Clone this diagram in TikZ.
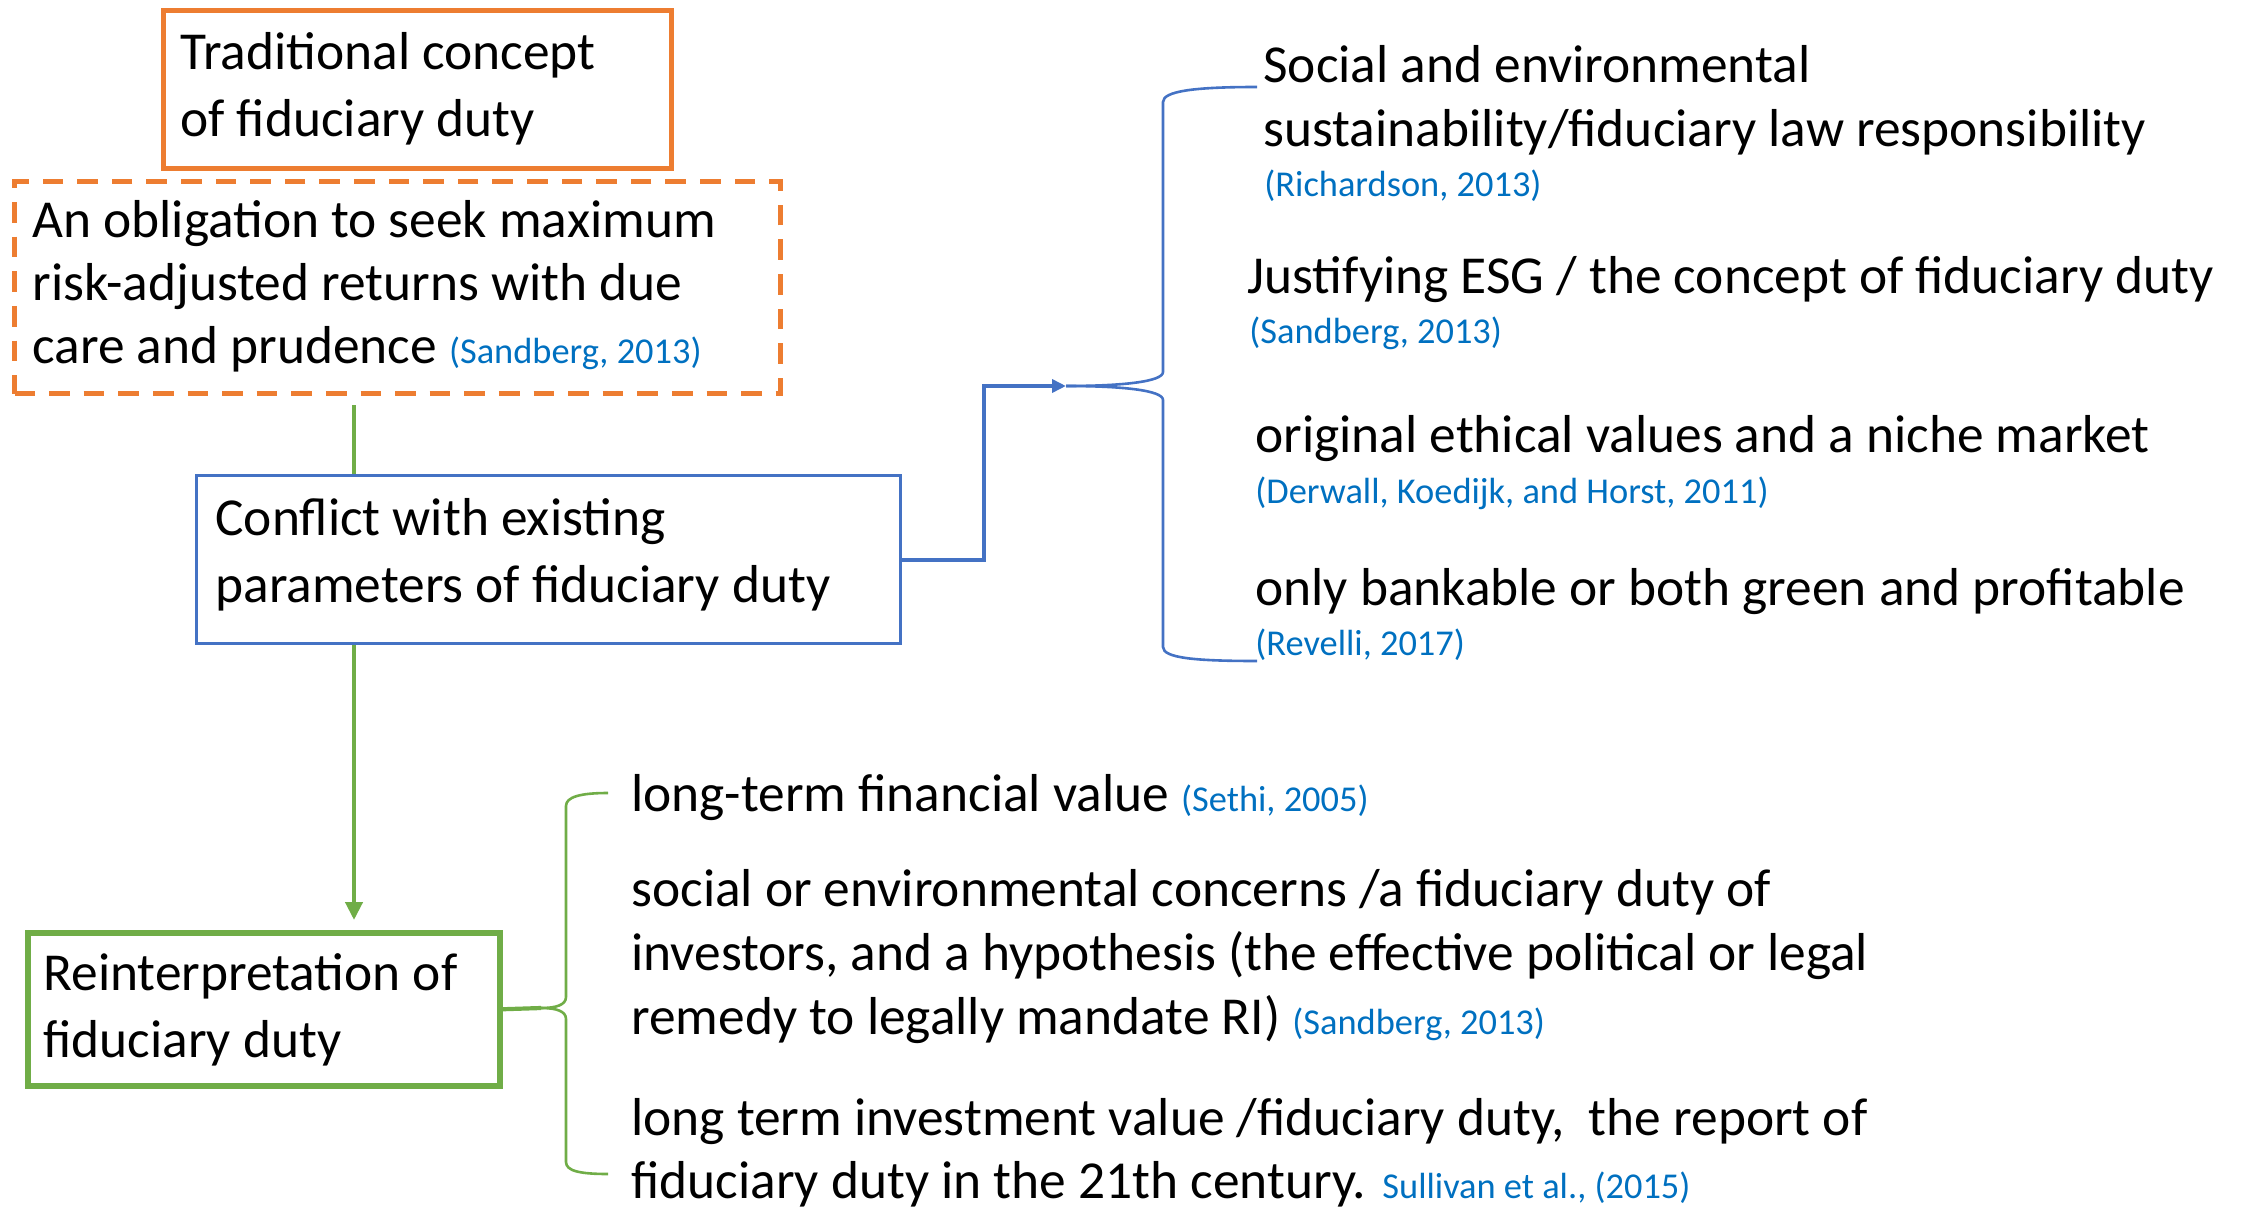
\documentclass[tikz,border=0pt]{standalone}
\usepackage{fontspec}
\setmainfont{Carlito}
\usetikzlibrary{arrows.meta,calc}
\definecolor{boxorange}{HTML}{ED7D31}
\definecolor{boxblue}{HTML}{4472C4}
\definecolor{boxgreen}{HTML}{70AD47}
\definecolor{citeblue}{HTML}{0070C0}
\newcommand{\refcite}[1]{{\fontsize{18.2}{20}\selectfont\color{citeblue}#1}}
\begin{document}
\begin{tikzpicture}[x=0.5pt,y=-0.5pt,
  txt/.style={anchor=base west, inner sep=0pt, font=\fontsize{26.7}{32.5}\selectfont},
  citetxt/.style={anchor=base west, inner sep=0pt, font=\fontsize{18.2}{20}\selectfont, text=citeblue},
  frame/.style={draw, inner sep=0pt, anchor=north west},
  bluelink/.style={draw=boxblue, line width=2pt},
  greenlink/.style={draw=boxgreen, line width=2.1pt},
  bracel/.style={line width=1.3pt}]
\useasboundingbox (0,0) rectangle (2241,1209);

% boxes
\node[frame, draw=boxorange, line width=2.5pt, minimum width=254pt, minimum height=79pt] (trad) at (161,8) {};
\node[frame, draw=boxorange, line width=2.5pt, dash pattern=on 10.3pt off 7pt, minimum width=383pt, minimum height=106pt] (oblig) at (12,179) {};
\node[frame, draw=boxblue, line width=1.5pt, minimum width=352pt, minimum height=84pt] (conflict) at (195,474) {};
\node[frame, draw=boxgreen, line width=2.75pt, minimum width=236pt, minimum height=76.5pt] (reint) at (25,930) {};

% box texts
\node[txt] (trad1) at (180,70) {Traditional concept};
\node[txt] (trad2) at (180,137) {of fiduciary duty};
\node[txt] (obl1) at (32,237) {An obligation to seek maximum};
\node[txt] (obl2) at (32,300) {risk-adjusted returns with due};
\node[txt] (obl3) at (32,363) {care and prudence \refcite{(Sandberg, 2013)}};
\node[txt] (con1) at (215,535) {Conflict with existing};
\node[txt] (con2) at (215,602) {parameters of fiduciary duty};
\node[txt] (rei1) at (43,990) {Reinterpretation of};
\node[txt] (rei2) at (43,1057) {fiduciary duty};

% right-hand statements
\node[txt] (s1a) at (1263,83) {Social and environmental};
\node[txt] (s1b) at (1263,147) {sustainability/fiduciary law responsibility};
\node[citetxt] (s1c) at (1264,197) {(Richardson, 2013)};
\node[txt] (s2a) at (1247,293) {Justifying ESG / the concept of fiduciary duty};
\node[citetxt] (s2c) at (1249,343) {(Sandberg, 2013)};
\node[txt] (s3a) at (1255,452) {original ethical values and a niche market};
\node[citetxt] (s3c) at (1255,503) {(Derwall, Koedijk, and Horst, 2011)};
\node[txt] (s4a) at (1255,605) {only bankable or both green and profitable};
\node[citetxt] (s4c) at (1255,655) {(Revelli, 2017)};

% lower statements
\node[txt] (l1) at (631,811) {long-term financial value \refcite{(Sethi, 2005)}};
\node[txt] (l2a) at (631,906) {social or environmental concerns /a fiduciary duty of};
\node[txt] (l2b) at (631,970) {investors, and a hypothesis (the effective political or legal};
\node[txt] (l2c) at (631,1034) {remedy to legally mandate RI) \refcite{(Sandberg, 2013)}};
\node[txt] (l3a) at (631,1135) {long term investment value /fiduciary duty,\ \ the report of};
\node[txt] (l3b) at (631,1198) {fiduciary duty in the 21th century. \refcite{Sullivan et al., (2015)}};

% vertical trunk
\coordinate (trunk) at (354,0);
\draw[greenlink] ($(oblig.south -| trunk)+(0,9)$) -- (conflict.north -| trunk);
\draw[greenlink, -{Triangle[length=9pt,width=8.5pt]}] (conflict.south -| trunk) -- ($(reint.north -| trunk)+(0,-10)$);

% link to right-hand brace
\coordinate (elbow) at (984,386);
\coordinate (btip) at (1066,386);
\draw[bluelink, -{Triangle[length=7pt,width=6.5pt]}] (conflict.east) -- (conflict.east -| elbow) -- (elbow) -- (btip);
\draw[boxblue, bracel] (btip) .. controls (1120,386) and (1163,382) .. (1163,372) -- (1163,102)
  .. controls (1163,91) and (1195,87) .. (1257,87);
\draw[boxblue, bracel] (btip) .. controls (1120,386) and (1163,390) .. (1163,400) -- (1163,647)
  .. controls (1163,658) and (1195,661) .. (1257,661);

% lower brace
\coordinate (gtip) at (541,1008);
\draw[greenlink] (reint.east) -- (gtip);
\draw[boxgreen, bracel] (gtip) .. controls (556,1008) and (566,1005) .. (566,997) -- (566,806)
  .. controls (566,797) and (580,793) .. (608,793);
\draw[boxgreen, bracel] (gtip) .. controls (556,1008) and (566,1011) .. (566,1019) -- (566,1162)
  .. controls (566,1171) and (580,1174) .. (608,1174);
\end{tikzpicture}
\end{document}
